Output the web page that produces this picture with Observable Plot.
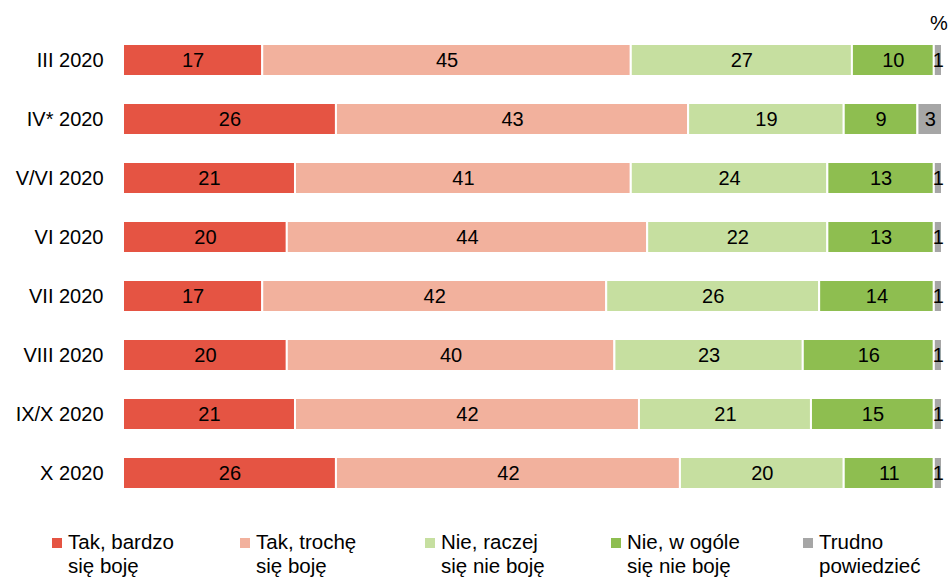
<!DOCTYPE html>
<html>
<head>
<meta charset="utf-8">
<script src="https://cdn.jsdelivr.net/npm/d3@7"></script>
<script src="https://cdn.jsdelivr.net/npm/@observablehq/plot@0.6"></script>
<style>
  body { margin: 0; background: #fff; font-family: "Liberation Sans", Arial, sans-serif; }
  #chart { position: relative; width: 949px; height: 503px; }
  #pct { position: absolute; left: 930px; top: 12px; font-size: 20px; color: #000; z-index: 2; }
  #legend { position: relative; height: 74px; width: 949px; font-size: 20.5px; color: #000; }
  .item { position: absolute; top: 27px; line-height: 24px; padding-left: 16px; white-space: nowrap; }
  .sw { position: absolute; left: 0; top: 8px; width: 10px; height: 10px; }
</style>
</head>
<body>
<div id="chart"><div id="pct">%</div></div>
<div id="legend"></div>
<script>
const periods = ["III 2020", "IV* 2020", "V/VI 2020", "VI 2020", "VII 2020", "VIII 2020", "IX/X 2020", "X 2020"];
const categories = ["Tak, bardzo się boję", "Tak, trochę się boję", "Nie, raczej się nie boję", "Nie, w ogóle się nie boję", "Trudno powiedzieć"];
const legendLines = [["Tak, bardzo", "się boję"], ["Tak, trochę", "się boję"], ["Nie, raczej", "się nie boję"], ["Nie, w ogóle", "się nie boję"], ["Trudno", "powiedzieć"]];
const colors = ["#E55443", "#F2B19D", "#C6DFA0", "#8EBE50", "#A6A6A6"];
const takBardzo = [17, 26, 21, 20, 17, 20, 21, 26];
const takTroche = [45, 43, 41, 44, 42, 40, 42, 42];
const nieRaczej = [27, 19, 24, 22, 26, 23, 21, 20];
const nieWOgole = [10, 9, 13, 13, 14, 16, 15, 11];
const trudno = [1, 3, 1, 1, 1, 1, 1, 1];
const series = [takBardzo, takTroche, nieRaczej, nieWOgole, trudno];

const data = [];
periods.forEach((p, i) => {
  categories.forEach((c, j) => data.push({period: p, cat: c, value: series[j][i]}));
});

const chart = Plot.plot({
  width: 949,
  height: 503,
  marginTop: 30,
  marginBottom: 0,
  marginLeft: 123,
  marginRight: 7,
  style: {fontFamily: "'Liberation Sans', Arial, sans-serif", fontSize: "20px", color: "#000", background: "#fff"},
  x: {domain: [0, 100], axis: null},
  y: {domain: periods, paddingInner: 0.46, paddingOuter: 0.23, label: null, tickSize: 0, tickPadding: 20},
  color: {domain: categories, range: colors},
  marks: [
    Plot.barX(data, Plot.stackX({x: "value", y: "period", fill: "cat", order: categories, stroke: "#fff", strokeWidth: 2})),
    Plot.textX(data, Plot.stackX({x: "value", y: "period", z: "cat", order: categories, text: d => String(d.value), fill: "#000", fontSize: 20}))
  ]
});
chart.style.position = "absolute";
chart.style.left = "0px";
chart.style.top = "0px";
chart.style.zIndex = "1";
document.getElementById("chart").appendChild(chart);

const legend = document.getElementById("legend");
const lefts = [52, 240, 425, 611, 803];
categories.forEach((c, j) => {
  const it = document.createElement("div");
  it.className = "item";
  it.style.left = lefts[j] + "px";
  it.innerHTML = `<span class="sw" style="background:${colors[j]}"></span>${legendLines[j][0]}<br>${legendLines[j][1]}`;
  legend.appendChild(it);
});
</script>
</body>
</html>
